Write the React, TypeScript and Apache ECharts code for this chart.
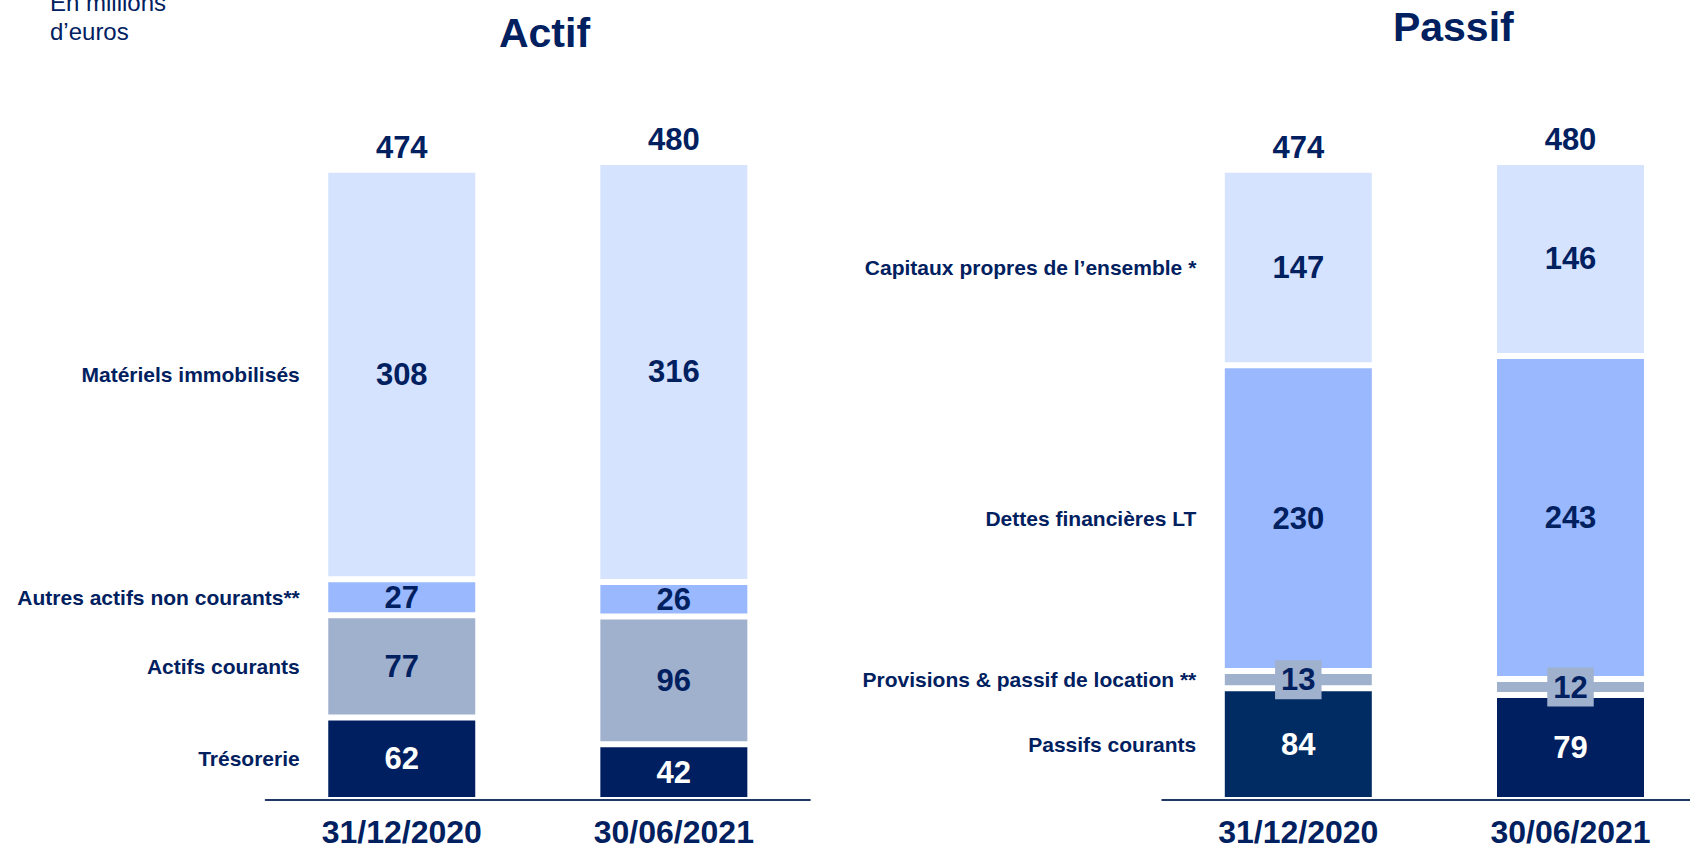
import React, { useEffect, useRef } from "react";
import * as echarts from "echarts";

const categories = ["31/12/2020", "30/06/2021"];

const actifNames = ["Trésorerie", "Actifs courants", "Autres actifs non courants**", "Matériels immobilisés"];
const actifTresorerie = [62, 42];
const actifCourants = [77, 96];
const actifAutres = [27, 26];
const actifMateriels = [308, 316];
const actifTotals = [474, 480];

const passifNames = ["Passifs courants", "Provisions & passif de location **", "Dettes financières LT", "Capitaux propres de l’ensemble *"];
const passifCourants = [84, 79];
const passifProvisions = [13, 12];
const passifDettes = [230, 243];
const passifCapitaux = [147, 146];
const passifTotals = [474, 480];

const NAVY = "#002060";
const FONT = '"Liberation Sans", Arial, Helvetica, sans-serif';
const C_LIGHT = "#D6E3FE";
const C_MID = "#99B8FE";
const C_GRAY = "#A0B1CE";
const C_DARK = "#001F60";
const C_DARK2 = "#002B63";

export default function App() {
  const ref = useRef<HTMLDivElement>(null);

  useEffect(() => {
    document.body.style.margin = "0";
    document.body.style.overflow = "hidden";
    document.documentElement.style.overflow = "hidden";
    const chart = echarts.init(ref.current!, undefined, { renderer: "svg" });
    const barW = 153;

    const seg = (
      name: string,
      data: number[],
      colors: string[],
      labelColor: string,
      gi: number,
      extraLabel: any = {}
    ) => ({
      type: "bar",
      name,
      stack: "s" + gi,
      xAxisIndex: gi,
      yAxisIndex: gi,
      barWidth: barW,
      silent: true,
      data: data.map((v, i) => ({ value: v, itemStyle: { color: colors[i] } })),
      itemStyle: { borderColor: "#ffffff", borderWidth: 3 },
      label: {
        show: true,
        position: "inside",
        color: labelColor,
        fontFamily: FONT,
        fontWeight: "bold",
        fontSize: 31,
        ...extraLabel,
      },
    });

    const total = (totals: number[], gi: number) => ({
      type: "bar",
      name: "Total" + gi,
      stack: "s" + gi,
      xAxisIndex: gi,
      yAxisIndex: gi,
      barWidth: barW,
      silent: true,
      data: totals.map(() => 0),
      itemStyle: { color: "transparent", borderWidth: 0 },
      label: {
        show: true,
        position: "top",
        distance: 7,
        formatter: (p: any) => String(totals[p.dataIndex]),
        color: NAVY,
        fontFamily: FONT,
        fontWeight: "bold",
        fontSize: 31,
      },
    });

    const xAxisBase = (gi: number) => ({
      type: "category",
      gridIndex: gi,
      data: categories,
      z: 10,
      axisLine: { show: true, lineStyle: { color: "#203864", width: 2 } },
      axisTick: { show: false },
      axisLabel: {
        color: NAVY,
        fontFamily: FONT,
        fontWeight: "bold",
        fontSize: 32,
        margin: 16,
      },
    });

    chart.setOption({
      animation: false,
      tooltip: { show: false },
      grid: [
        { left: 265.7, width: 544.2, top: 135.3, height: 668, containLabel: false },
        { left: 1162.2, width: 544.4, top: 135.3, height: 668, containLabel: false },
      ],
      xAxis: [xAxisBase(0), xAxisBase(1)],
      yAxis: [
        { type: "value", gridIndex: 0, min: 0, max: 500, show: false },
        { type: "value", gridIndex: 1, min: 0, max: 500, show: false },
      ],
      series: [
        seg(actifNames[0], actifTresorerie, [C_DARK, C_DARK], "#ffffff", 0),
        seg(actifNames[1], actifCourants, [C_GRAY, C_GRAY], NAVY, 0),
        seg(actifNames[2], actifAutres, [C_MID, C_MID], NAVY, 0),
        seg(actifNames[3], actifMateriels, [C_LIGHT, C_LIGHT], NAVY, 0),
        total(actifTotals, 0),
        seg(passifNames[0], passifCourants, [C_DARK2, C_DARK], "#ffffff", 1),
        seg(passifNames[1], passifProvisions, [C_GRAY, C_GRAY], NAVY, 1, {
          backgroundColor: C_GRAY,
          padding: [4, 6],
          lineHeight: 31,
        }),
        seg(passifNames[2], passifDettes, [C_MID, C_MID], NAVY, 1),
        seg(passifNames[3], passifCapitaux, [C_LIGHT, C_LIGHT], NAVY, 1),
        total(passifTotals, 1),
      ],
    });

    const sideLabels: any[] = [];
    const addSide = (names: string[], arrays: number[][], gi: number) => {
      let cum = 0;
      arrays.forEach((arr, k) => {
        const v = arr[0];
        const pt = chart.convertToPixel({ xAxisIndex: gi, yAxisIndex: gi }, [0, cum + v / 2]) as number[];
        cum += v;
        sideLabels.push({
          type: "text",
          x: pt[0] - 102,
          y: pt[1],
          silent: true,
          style: {
            text: names[k],
            fill: NAVY,
            font: `bold 21px ${FONT}`,
            textAlign: "right",
            align: "right",
            textVerticalAlign: "middle",
            verticalAlign: "middle",
          },
        });
      });
    };
    addSide(actifNames, [actifTresorerie, actifCourants, actifAutres, actifMateriels], 0);
    addSide(passifNames, [passifCourants, passifProvisions, passifDettes, passifCapitaux], 1);

    const txt = (text: string, x: number, y: number, font: string, align: string) => ({
      type: "text",
      x,
      y,
      silent: true,
      style: {
        text,
        fill: NAVY,
        font,
        textAlign: align,
        align,
        textVerticalAlign: "middle",
        verticalAlign: "middle",
      },
    });

    chart.setOption({
      graphic: [
        txt("Actif", 544.5, 32.5, `bold 41px ${FONT}`, "center"),
        txt("Passif", 1453.3, 27, `bold 41px ${FONT}`, "center"),
        txt("En millions", 50, 2, `24px ${FONT}`, "left"),
        txt("d’euros", 50, 31, `24px ${FONT}`, "left"),
        ...sideLabels,
      ],
    });

    return () => chart.dispose();
  }, []);

  return (
    <div
      ref={ref}
      style={{ position: "relative", width: 1720, height: 848, background: "#ffffff" }}
    />
  );
}
